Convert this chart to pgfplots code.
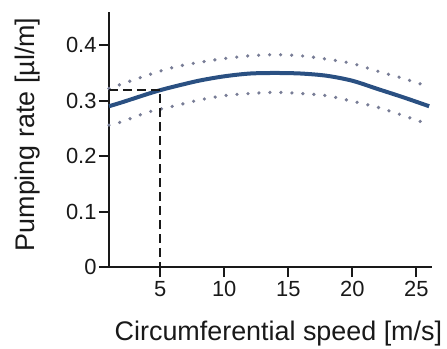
\documentclass[border=0pt]{standalone}
\usepackage{fontspec}
\setmainfont{Liberation Sans}
\usepackage{pgfplots}
\pgfplotsset{compat=1.18}
\definecolor{mainblue}{RGB}{42,80,130}
\definecolor{dotgray}{RGB}{120,125,150}
\begin{document}
\begin{tikzpicture}[x=1bp,y=1bp]
\useasboundingbox (-109bp,-82bp) rectangle (338bp,267bp);
\begin{axis}[
  at={(0,0)}, anchor=south west,
  scale only axis,
  width=322.7bp, height=255bp,
  xmin=1, xmax=26.2, ymin=0, ymax=0.46,
  axis lines=left,
  axis line style={-, line width=2bp, black!90},
  xtick={5,10,15,20,25},
  ytick={0,0.1,0.2,0.3,0.4},
  yticklabels={0,0.1,0.2,0.3,0.4},
  tick align=outside,
  major tick length=10bp,
  tick style={line width=2bp, black!90},
  /pgf/number format/assume math mode=true,
  tick label style={font=\fontsize{22}{24}\selectfont, text=black!90},
  xticklabel style={yshift=-1bp},
  yticklabel style={xshift=1bp},
  xlabel={Circumferential speed [m/s]},
  ylabel={Pumping rate [µl/m]},
  label style={font=\fontsize{27}{30}\selectfont, text=black!90, inner sep=0pt},
  xlabel style={at={(axis description cs:0.525,0)}, anchor=center, yshift=-67bp},
  ylabel style={at={(axis description cs:0,0.52)}, anchor=center, yshift=81.5bp},
  clip=false,
]
\addplot[dotgray, line width=3.6bp, line cap=round, dash pattern=on 0bp off 11bp, smooth] coordinates {
(1,0.322) (2,0.330) (4,0.346) (6,0.360) (8,0.369) (10,0.376) (12,0.381) (14,0.383) (16,0.381) (18,0.375) (20,0.367) (22,0.353) (24,0.340) (26,0.325)};
\addplot[dotgray, line width=3.6bp, line cap=round, dash pattern=on 0bp off 11bp, smooth] coordinates {
(1,0.256) (2,0.262) (4,0.279) (6,0.290) (8,0.301) (10,0.309) (12,0.313) (14,0.315) (16,0.313) (18,0.309) (20,0.299) (22,0.288) (24,0.273) (26,0.257)};
\addplot[mainblue, line width=4bp, smooth] coordinates {
(1,0.290) (2,0.297) (4,0.312) (5,0.319) (6,0.325) (8,0.336) (10,0.344) (12,0.349) (14,0.350) (16,0.349) (18,0.345) (20,0.336) (22,0.321) (24,0.306) (26,0.290)};
\addplot[black!90, line width=2bp, dash pattern=on 9bp off 5bp] coordinates {(1,0.32) (5,0.32) (5,0)};
\end{axis}
\end{tikzpicture}
\end{document}
